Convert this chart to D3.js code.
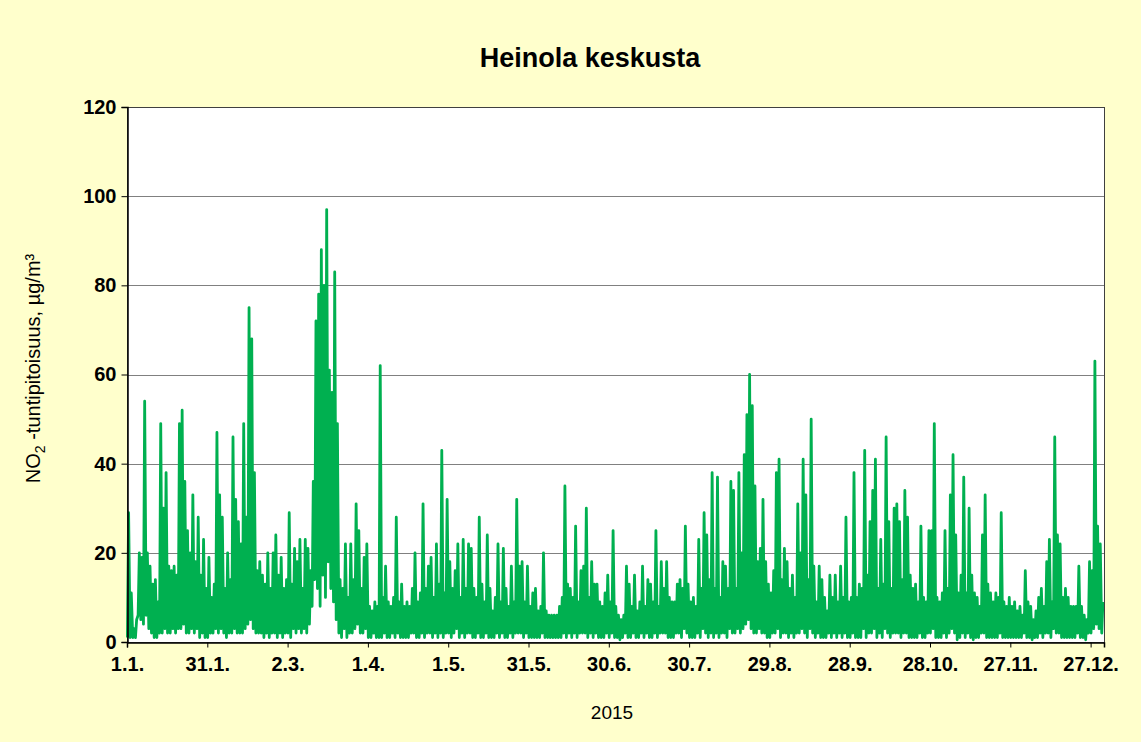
<!DOCTYPE html>
<html>
<head>
<meta charset="utf-8">
<script src="https://cdn.jsdelivr.net/npm/d3@7"></script>
<style>
  body { margin: 0; background: #ffffcc; }
  svg { display: block; font-family: "Liberation Sans", Arial, sans-serif; }
  .axis path, .axis line { stroke: #000; }
  .grid line { stroke: #808080; }
</style>
</head>
<body>
<svg id="chart"></svg>
<script>
// Heinola keskusta, NO2 hourly concentration 2015 (daily highs / lows)
const tickDays = [0, 30, 60, 90, 120, 150, 180, 210, 240, 270, 300, 330, 360];
const tickLabels = ['1.1.', '31.1.', '2.3.', '1.4.', '1.5.', '31.5.', '30.6.', '30.7.', '29.8.', '28.9.', '28.10.', '27.11.', '27.12.'];
const yTicks = [0, 20, 40, 60, 80, 100, 120];

const dailyMax = [
  29, 11, 3, 5, 20, 19, 54, 20, 17, 13,
  14, 9, 49, 30, 38, 17, 16, 17, 15, 49,
  52, 36, 25, 20, 33, 18, 28, 15, 23, 12,
  19, 10, 13, 47, 33, 28, 12, 20, 14, 46,
  32, 27, 22, 49, 28, 75, 68, 38, 16, 18,
  15, 13, 20, 12, 20, 24, 15, 19, 12, 14,
  29, 13, 21, 18, 23, 12, 23, 21, 16, 36,
  72, 78, 88, 80, 97, 61, 56, 83, 49, 14,
  12, 22, 10, 22, 14, 31, 25, 12, 19, 22,
  8, 7, 9, 8, 62, 10, 17, 9, 8, 10,
  28, 9, 13, 8, 9, 8, 12, 20, 9, 11,
  31, 12, 17, 19, 10, 22, 13, 43, 11, 32,
  18, 12, 16, 22, 10, 23, 12, 22, 21, 12,
  10, 28, 13, 9, 24, 12, 7, 10, 22, 9,
  21, 12, 8, 17, 9, 32, 17, 18, 9, 17,
  8, 11, 12, 7, 8, 20, 7, 6, 6, 6,
  6, 8, 10, 35, 13, 12, 10, 26, 9, 16,
  17, 30, 10, 18, 13, 13, 9, 8, 11, 15,
  9, 25, 8, 6, 5, 6, 17, 13, 8, 15,
  7, 9, 17, 8, 14, 13, 9, 25, 8, 18,
  12, 18, 10, 9, 9, 13, 14, 12, 26, 13,
  9, 10, 8, 23, 12, 29, 24, 14, 38, 12,
  37, 10, 18, 17, 12, 36, 34, 12, 38, 20,
  42, 51, 60, 53, 35, 18, 21, 32, 18, 13,
  11, 16, 38, 41, 14, 21, 18, 12, 15, 10,
  31, 20, 41, 33, 14, 50, 17, 9, 17, 14,
  10, 7, 15, 10, 15, 9, 17, 10, 28, 9,
  10, 38, 10, 13, 12, 43, 15, 27, 34, 41,
  12, 23, 13, 46, 27, 12, 30, 31, 27, 14,
  34, 28, 15, 12, 13, 9, 26, 10, 9, 25,
  25, 49, 10, 9, 11, 25, 12, 33, 42, 24,
  11, 15, 37, 11, 30, 15, 11, 10, 8, 24,
  33, 13, 11, 9, 11, 10, 29, 9, 8, 10,
  8, 9, 7, 8, 6, 16, 9, 8, 5, 7,
  10, 12, 8, 18, 23, 9, 46, 24, 22, 10,
  12, 10, 8, 8, 8, 17, 8, 6, 5, 18,
  16, 63, 26, 22, 9
];

const dailyMin = [
  1, 1, 1, 1, 6, 5, 4, 6, 3, 2,
  1, 1, 2, 2, 3, 2, 2, 3, 2, 3,
  3, 4, 2, 2, 3, 2, 3, 1, 2, 1,
  1, 2, 2, 3, 2, 3, 2, 1, 2, 2,
  3, 2, 2, 2, 3, 4, 5, 3, 2, 2,
  2, 1, 2, 1, 2, 2, 1, 2, 1, 2,
  2, 1, 3, 2, 3, 2, 3, 2, 4, 8,
  14, 12, 8, 15, 10, 18, 12, 9, 5, 2,
  1, 3, 1, 2, 2, 3, 4, 2, 2, 3,
  1, 1, 2, 1, 1, 1, 2, 1, 1, 2,
  1, 2, 1, 1, 1, 1, 2, 2, 1, 1,
  2, 1, 2, 2, 1, 2, 1, 2, 1, 2,
  2, 1, 2, 3, 1, 2, 1, 2, 2, 1,
  1, 2, 1, 1, 2, 1, 1, 1, 2, 1,
  2, 1, 1, 2, 1, 2, 2, 2, 1, 2,
  1, 1, 1, 1, 1, 2, 1, 1, 1, 1,
  1, 1, 1, 2, 1, 2, 1, 2, 1, 2,
  2, 2, 1, 2, 1, 2, 1, 1, 1, 2,
  1, 2, 1, 1, 0.5, 1, 2, 1, 1, 2,
  1, 1, 2, 1, 2, 1, 1, 2, 1, 2,
  2, 2, 1, 1, 1, 2, 2, 1, 3, 2,
  1, 1, 1, 2, 1, 3, 2, 1, 2, 1,
  2, 1, 2, 2, 1, 3, 2, 2, 3, 2,
  3, 4, 5, 3, 2, 2, 3, 2, 2, 1,
  1, 2, 2, 3, 1, 2, 2, 1, 2, 1,
  2, 2, 3, 2, 1, 3, 2, 1, 2, 1,
  1, 1, 2, 1, 2, 1, 2, 1, 2, 1,
  1, 2, 1, 1, 1, 3, 1, 2, 2, 3,
  1, 2, 1, 3, 2, 1, 2, 2, 2, 1,
  2, 2, 1, 1, 1, 1, 2, 1, 1, 2,
  2, 3, 1, 1, 1, 2, 1, 2, 3, 2,
  0.5, 1, 2, 1, 2, 1, 0.5, 1, 1, 2,
  2, 1, 1, 1, 1, 1, 2, 1, 1, 1,
  1, 1, 1, 1, 1, 2, 1, 1, 0.5, 1,
  1, 2, 1, 2, 2, 1, 3, 2, 2, 1,
  1, 1, 1, 1, 1, 2, 1, 1, 0.5, 2,
  2, 3, 4, 3, 2
];

const width = 1141, height = 742;
const margin = {top: 107, right: 37, bottom: 100, left: 127};

const svg = d3.select('#chart')
  .attr('width', width)
  .attr('height', height);

const x = d3.scaleLinear()
  .domain([0, 365])
  .range([margin.left, width - margin.right]);

const y = d3.scaleLinear()
  .domain([0, 120])
  .range([height - margin.bottom, margin.top]);

// plot area
svg.append('rect')
  .attr('x', x(0))
  .attr('y', y(120))
  .attr('width', x(365) - x(0))
  .attr('height', y(0) - y(120))
  .attr('fill', '#fff');

// gridlines
svg.append('g')
  .attr('class', 'grid')
  .selectAll('line')
  .data(yTicks.slice(1))
  .join('line')
  .attr('x1', x(0))
  .attr('x2', x(365))
  .attr('y1', d => Math.round(y(d)) + 0.5)
  .attr('y2', d => Math.round(y(d)) + 0.5);

// series: one low and one high point per day
const points = [];
dailyMax.forEach((v, i) => {
  points.push([i + 0.15, dailyMin[i]]);
  points.push([i + 0.6, v]);
});

const line = d3.line()
  .x(d => x(d[0]))
  .y(d => y(d[1]));

svg.append('path')
  .datum(points)
  .attr('fill', 'none')
  .attr('stroke', '#00b050')
  .attr('stroke-width', 2.8)
  .attr('stroke-linejoin', 'round')
  .attr('d', line);

// plot border
svg.append('rect')
  .attr('x', x(0) + 0.5)
  .attr('y', Math.round(y(120)) + 0.5)
  .attr('width', x(365) - x(0))
  .attr('height', y(0) - y(120))
  .attr('fill', 'none')
  .attr('stroke', '#404040');

// axes
svg.append('g')
  .attr('class', 'axis')
  .attr('transform', 'translate(' + (x(0) + 0.5) + ',0)')
  .call(d3.axisLeft(y).tickValues(yTicks).tickSize(6).tickPadding(5))
  .call(g => g.selectAll('text')
    .attr('font-size', 20)
    .attr('font-weight', 'bold')
    .attr('fill', '#000'))
  .call(g => g.select('.domain').attr('stroke-width', 1.5));

svg.append('g')
  .attr('class', 'axis')
  .attr('transform', 'translate(0,' + (Math.round(y(0)) + 0.5) + ')')
  .call(d3.axisBottom(x)
    .tickValues(tickDays)
    .tickFormat((d, i) => tickLabels[i])
    .tickSize(5)
    .tickPadding(9))
  .call(g => g.selectAll('text')
    .attr('font-size', 20)
    .attr('font-weight', 'bold')
    .attr('fill', '#000'))
  .call(g => g.select('.domain').attr('stroke-width', 1.5));

// title
svg.append('text')
  .attr('x', 590)
  .attr('y', 67)
  .attr('text-anchor', 'middle')
  .attr('font-size', 27)
  .attr('font-weight', 'bold')
  .text('Heinola keskusta');

// axis titles
const yLabel = svg.append('text')
  .attr('transform', 'translate(40,' + ((y(0) + y(120)) / 2 - 6) + ') rotate(-90)')
  .attr('text-anchor', 'middle')
  .attr('font-size', 20);
yLabel.append('tspan').text('NO');
yLabel.append('tspan').attr('font-size', 14).attr('dy', 5).text('2');
yLabel.append('tspan').attr('dy', -5).text(' -tuntipitoisuus, µg/m³');

svg.append('text')
  .attr('x', 612)
  .attr('y', 719)
  .attr('text-anchor', 'middle')
  .attr('font-size', 19)
  .text('2015');
</script>
</body>
</html>
